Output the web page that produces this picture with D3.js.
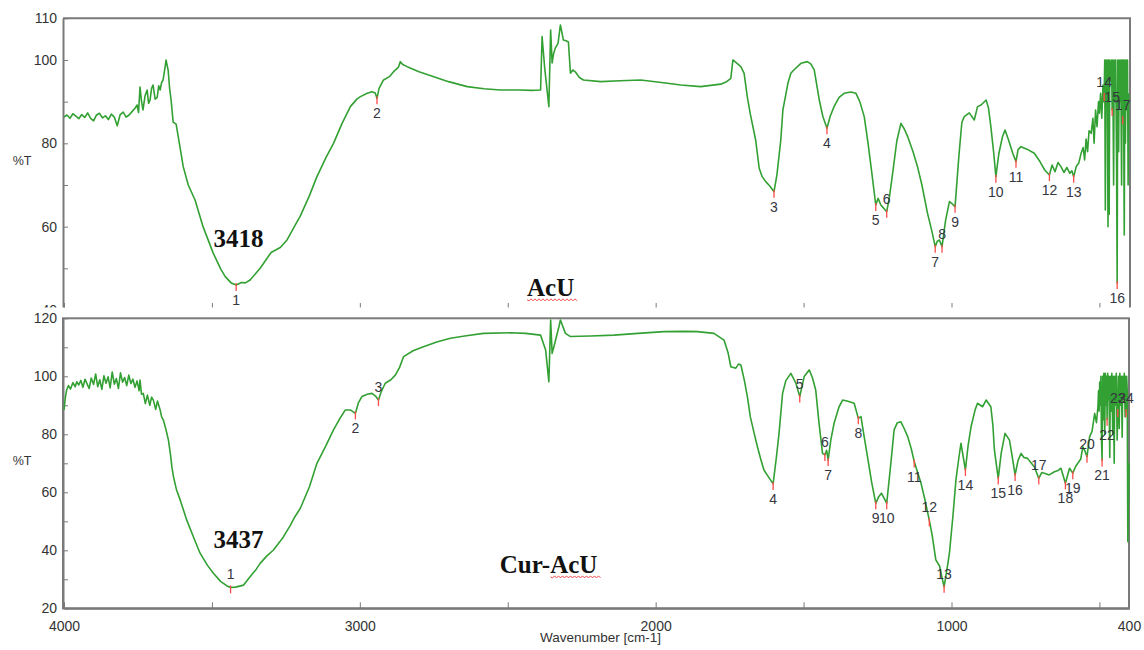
<!DOCTYPE html>
<html lang="en">
<head>
<meta charset="UTF-8">
<title>FTIR AcU / Cur-AcU</title>
<script src="https://cdnjs.cloudflare.com/ajax/libs/d3/7.8.5/d3.min.js"></script>
<style>
  body { margin: 0; background: #fff; }
  svg text { font-family: Arial, "Liberation Sans", sans-serif; }
</style>
</head>
<body>
<div id="chart"></div>
<script>
// spectra as [wavenumber cm-1, %T]
const acuSpectrum = [
  [4000,86.3],[3990,86.8],[3980,86.0],[3970,87.1],[3960,86.5],[3950,85.9],[3940,86.9],[3930,86.2],
  [3920,87.3],[3910,86.0],[3900,85.4],[3890,86.8],[3880,87.2],[3870,86.1],[3860,86.6],[3850,85.7],
  [3840,87.0],[3830,86.3],[3820,84.2],[3810,86.9],[3800,87.5],[3790,86.3],[3780,86.8],[3770,87.6],
  [3760,88.4],[3753,89.2],[3748,87.4],[3743,93.5],[3738,90.1],[3733,88.0],[3726,91.4],[3719,92.8],
  [3714,89.6],[3709,90.4],[3704,93.2],[3699,94.0],[3692,90.6],[3685,91.0],[3680,93.8],[3675,92.8],
  [3670,94.6],[3665,95.2],[3658,98.4],[3655,100.0],[3651,98.6],[3648,97.6],[3643,93.2],[3638,90.4],
  [3631,85.1],[3621,84.6],[3610,80.0],[3597,74.4],[3580,70.0],[3557,66.4],[3530,60.0],[3496,53.7],
  [3470,49.8],[3455,48.0],[3435,46.5],[3418,46.0],[3400,46.6],[3387,46.5],[3371,47.2],[3337,50.0],
  [3300,53.8],[3269,55.0],[3246,56.8],[3220,60.2],[3201,62.6],[3170,67.5],[3145,72.0],[3115,76.5],
  [3089,80.0],[3060,84.8],[3032,88.8],[3010,90.6],[2998,91.2],[2975,92.0],[2959,92.4],[2948,92.1],
  [2942,90.8],[2935,93.2],[2920,95.2],[2900,96.0],[2886,97.2],[2870,98.2],[2863,99.6],[2855,98.9],
  [2840,98.4],[2800,97.2],[2750,96.0],[2700,94.8],[2637,93.6],[2580,93.1],[2525,92.8],[2460,92.8],
  [2420,92.7],[2389,92.8],[2384,105.6],[2375,98.0],[2361,88.8],[2355,107.2],[2350,99.3],[2345,101.5],
  [2339,102.9],[2330,104.0],[2322,108.4],[2312,104.8],[2303,104.6],[2295,104.3],[2288,96.8],[2280,97.6],
  [2271,97.1],[2258,95.8],[2244,95.2],[2186,94.8],[2120,95.0],[2051,95.2],[1980,94.6],[1915,94.0],
  [1848,93.6],[1780,94.2],[1760,94.8],[1746,95.6],[1739,100.0],[1725,99.2],[1712,98.4],[1701,96.8],
  [1690,91.0],[1680,87.0],[1662,80.8],[1650,74.0],[1640,72.0],[1628,70.8],[1615,69.8],[1600,68.4],
  [1590,72.5],[1577,80.8],[1570,88.0],[1553,94.4],[1543,96.8],[1533,97.6],[1509,99.2],[1487,99.6],
  [1475,99.0],[1464,97.6],[1447,90.4],[1435,86.5],[1421,83.6],[1410,86.5],[1397,88.8],[1380,91.0],
  [1363,92.0],[1340,92.3],[1323,92.0],[1310,90.0],[1295,86.4],[1282,80.0],[1272,74.4],[1256,65.2],
  [1248,66.8],[1239,65.2],[1230,64.5],[1219,63.6],[1210,67.0],[1199,72.8],[1185,80.5],[1171,84.8],
  [1160,83.5],[1148,81.6],[1130,78.0],[1115,74.4],[1100,70.0],[1081,63.2],[1065,58.5],[1055,55.2],
  [1048,56.5],[1041,56.8],[1032,55.2],[1020,61.5],[1007,66.0],[998,65.5],[988,64.8],[975,77.0],
  [965,85.0],[957,86.4],[940,87.3],[923,85.6],[912,88.8],[900,89.2],[883,90.4],[875,88.5],
  [867,84.0],[857,77.5],[850,72.0],[840,77.5],[828,81.5],[819,83.2],[808,81.0],[793,77.6],
  [782,75.6],[775,78.5],[765,79.2],[745,78.6],[720,77.6],[700,75.5],[685,73.6],[669,72.4],
  [660,74.8],[650,73.2],[640,75.4],[630,74.4],[620,73.0],[610,74.2],[600,72.8],[593,73.4],
  [587,72.0],[578,74.5],[570,75.2],[562,77.6],[555,79.0],[550,76.0],[545,81.0],[540,78.0],
  [535,83.0],[528,82.4],[522,86.0],[518,80.0],[513,88.0],[508,84.0],[503,90.0],[500,87.2],
  [496,92.0],[492,86.0],[488,94.0],[486,90.0],[484,91.6],[482,100],[480,64],[478,100],
  [476,93],[474,100],[471,60],[469,100],[467,63],[465,100],[462,95],[459,100],
  [457,88],[455,100],[452,70],[450,100],[447,90],[445,100],[442,75],[440,46.5],
  [438,100],[435,78],[433,100],[430,90],[428,100],[425,70],[423,100],[421,86],
  [419,100],[416,58],[414,100],[412,80],[410,100],[408,88],[405,100],[403,70],[401,92]
];

const curAcuSpectrum = [
  [4000,88.4],[3995,93.0],[3991,95.3],[3985,96.8],[3978,95.6],[3970,97.8],[3962,96.4],[3957,98.1],
  [3950,97.0],[3943,98.6],[3936,96.2],[3929,99.0],[3922,97.4],[3915,95.8],[3908,99.4],[3900,97.2],
  [3893,100.8],[3886,96.4],[3879,98.8],[3872,95.5],[3865,100.2],[3858,97.6],[3851,99.8],[3844,96.0],
  [3837,101.5],[3830,97.3],[3823,99.2],[3816,95.8],[3809,101.2],[3802,98.0],[3795,99.6],[3788,96.8],
  [3781,100.4],[3774,97.5],[3767,99.0],[3760,96.2],[3753,98.4],[3746,95.0],[3743,98.7],[3738,93.8],
  [3732,94.1],[3725,90.6],[3718,93.5],[3710,90.0],[3704,92.8],[3698,91.8],[3690,88.6],[3684,91.5],
  [3675,88.4],[3670,86.0],[3664,84.9],[3655,81.5],[3647,78.0],[3640,73.0],[3635,68.5],[3630,65.4],
  [3620,61.0],[3607,57.3],[3585,50.4],[3560,44.0],[3540,39.0],[3515,34.8],[3495,32.1],[3470,29.2],
  [3450,27.8],[3437,27.2],[3420,27.3],[3393,28.0],[3371,30.9],[3350,33.5],[3337,35.5],[3315,38.0],
  [3292,40.1],[3270,43.0],[3258,44.7],[3235,48.6],[3220,51.5],[3201,54.5],[3170,62.0],[3145,70.0],
  [3115,76.0],[3089,81.5],[3070,85.0],[3049,88.4],[3032,88.4],[3015,87.2],[3005,90.8],[2993,93.0],
  [2975,93.8],[2959,94.1],[2947,93.2],[2937,91.8],[2928,94.6],[2914,97.6],[2895,98.8],[2880,100.4],
  [2866,103.0],[2852,106.8],[2820,108.8],[2785,110.2],[2740,111.8],[2694,113.1],[2640,114.0],[2582,114.8],
  [2491,115.0],[2440,114.8],[2389,114.2],[2372,109.1],[2361,98.1],[2355,119.4],[2350,107.9],[2344,110.2],
  [2327,117.1],[2322,119.4],[2305,114.8],[2288,113.7],[2220,113.9],[2141,114.2],[2060,114.8],[1972,115.4],
  [1900,115.5],[1859,115.4],[1803,114.8],[1769,112.5],[1755,108.0],[1746,103.3],[1729,102.8],[1720,104.2],
  [1712,103.9],[1700,98.5],[1690,93.0],[1680,86.0],[1667,80.3],[1656,75.7],[1645,71.5],[1634,67.7],
  [1620,65.5],[1603,62.9],[1592,72.0],[1583,80.3],[1571,94.1],[1560,98.5],[1543,101.0],[1526,97.6],
  [1513,93.0],[1498,99.9],[1481,102.2],[1470,99.5],[1459,95.3],[1448,84.0],[1436,73.4],[1428,72.9],
  [1422,74.5],[1417,71.1],[1408,78.0],[1397,83.8],[1380,89.5],[1368,91.8],[1350,91.4],[1329,90.7],
  [1315,85.5],[1306,86.1],[1295,79.0],[1284,72.3],[1270,63.5],[1256,56.2],[1246,58.5],[1237,59.7],
  [1228,58.0],[1219,56.2],[1205,70.0],[1194,81.5],[1183,84.0],[1171,84.3],[1160,82.0],[1148,79.2],
  [1136,75.0],[1126,70.6],[1115,67.0],[1103,63.1],[1090,57.5],[1075,50.4],[1065,45.0],[1053,36.7],
  [1040,34.5],[1032,30.5],[1025,27.4],[1016,33.0],[1007,39.0],[995,52.0],[985,64.3],[975,72.0],
  [968,76.9],[960,72.0],[953,67.7],[944,76.0],[934,82.6],[920,88.5],[912,90.7],[895,89.5],
  [883,91.8],[867,89.5],[860,83.0],[855,74.6],[842,64.8],[832,73.5],[819,80.3],[804,78.0],
  [795,72.5],[785,66.0],[775,71.0],[765,73.4],[755,72.0],[743,71.7],[730,70.0],[720,68.8],
  [705,64.8],[695,66.8],[686,66.6],[670,66.0],[652,67.1],[640,67.5],[630,68.3],[615,63.1],
  [601,68.3],[590,66.6],[580,69.0],[573,70.0],[563,71.5],[556,75.7],[548,74.0],[542,72.3],
  [533,79.2],[525,81.0],[516,87.2],[510,84.0],[505,89.5],[503,95],[501,88],[499,98],
  [497,90],[495,100],[493,78],[491,71],[489,100],[487,85],[485,101],[482,80],
  [480,101],[478,90],[476,100],[474,85],[472,101],[470,92],[468,100],[465,72],
  [463,100],[460,88],[458,101],[455,80],[453,100],[450,70],[448,100],[446,90],
  [443,101],[440,78],[438,88],[436,100],[433,82],[431,101],[428,90],[426,100],
  [423,79],[421,100],[418,92],[416,101],[413,86],[411,100],[410,88],[408,100],
  [406,95],[404,43],[402,58],[400,70]
];

// picked peaks (numbered 1..n in order)
const acuPeaks = [3418, 2942, 1600, 1421, 1256, 1219, 1055, 1032, 988, 850, 782, 669, 587, 484, 457, 440, 421];
const curAcuPeaks = [3437, 3015, 2937, 1603, 1513, 1428, 1417, 1315, 1256, 1219, 1126, 1075, 1025, 953, 842, 785, 705, 615, 590, 542, 491, 474, 438, 410];
const acuPeaksAbove = [6, 8, 14, 15, 17];
const curAcuPeaksAbove = [1, 3, 5, 6, 12, 13, 17, 20, 23, 24];

const xTicks = [4000, 3500, 3000, 2500, 2000, 1500, 1000, 500, 400];
const xTickLabels = [4000, 3000, 2000, 1000, 400];
const acuYTicks = [110, 100, 90, 80, 70, 60, 50, 40];
const acuYLabels = [110, 100, 80, 60, 40];
const curYTicks = [120, 110, 100, 90, 80, 70, 60, 50, 40, 30, 20];
const curYLabels = [120, 100, 80, 60, 40, 20];

const width = 1144;
const height = 650;
const lineColor = '#33a033';
const frameColor = '#7a7a7a';

const svg = d3.select('#chart').append('svg')
  .attr('width', width)
  .attr('height', height);

const x = d3.scaleLinear().domain([4000, 400]).range([64, 1129]);

const panels = [
  {
    id: 'acu', data: acuSpectrum, peaks: acuPeaks, above: acuPeaksAbove,
    y: d3.scaleLinear().domain([40, 110]).range([310, 18.3]),
    yTicks: acuYTicks, yLabels: acuYLabels, top: 18.3, bottom: 307.5, cut: true,
    value: '3418', valueAt: [3410, 55], name: 'AcU', nameAt: [2355, 43.4]
  },
  {
    id: 'cur', data: curAcuSpectrum, peaks: curAcuPeaks, above: curAcuPeaksAbove,
    y: d3.scaleLinear().domain([20, 120]).range([608.3, 318.3]),
    yTicks: curYTicks, yLabels: curYLabels, top: 318.3, bottom: 608.3, cut: false,
    value: '3437', valueAt: [3410, 40.8], name: 'Cur-AcU', nameAt: [2362, 32.2]
  }
];

panels.forEach(p => {
  const y = p.y;
  // clip for the cropped top panel
  svg.append('clipPath').attr('id', 'clip-' + p.id)
    .append('rect').attr('x', 0).attr('y', 0).attr('width', width).attr('height', p.bottom + (p.cut ? 0 : 40));
  svg.append('clipPath').attr('id', 'plot-' + p.id)
    .append('rect').attr('x', 63).attr('y', p.top).attr('width', 1067).attr('height', p.bottom - p.top);

  const g = svg.append('g').attr('clip-path', `url(#clip-${p.id})`);

  // frame
  if (p.cut) {
    g.append('path')
      .attr('d', `M63,${p.top}H1130V${p.bottom}`)
      .attr('fill', 'none').attr('stroke', frameColor).attr('stroke-width', 2);
  } else {
    g.append('rect')
      .attr('x', 63).attr('y', p.top).attr('width', 1066).attr('height', p.bottom - p.top)
      .attr('fill', 'none').attr('stroke', frameColor).attr('stroke-width', 2);
  }

  // y axis
  const yAxis = g.append('g')
    .attr('transform', 'translate(63,0)')
    .call(d3.axisLeft(y)
      .tickValues(p.yTicks)
      .tickSizeInner(-5).tickSizeOuter(0).tickPadding(6)
      .tickFormat(d => p.yLabels.includes(d) ? d : ''));
  yAxis.select('.domain').attr('stroke', frameColor).attr('stroke-width', 2);
  yAxis.selectAll('.tick line').attr('stroke', frameColor);
  yAxis.selectAll('text').attr('fill', '#333').style('font-size', '14px');

  // x axis (ticks only on the top panel)
  const xAxis = g.append('g')
    .attr('transform', `translate(0,${p.cut ? 309 : p.bottom})`)
    .call(d3.axisBottom(x)
      .tickValues(xTicks)
      .tickSizeInner(-6).tickSizeOuter(0).tickPadding(13)
      .tickFormat(d => (!p.cut && xTickLabels.includes(d)) ? d : ''));
  xAxis.select('.domain').attr('stroke', p.cut ? 'none' : frameColor).attr('stroke-width', 2);
  xAxis.selectAll('.tick line').attr('stroke', frameColor);
  xAxis.selectAll('text').attr('fill', '#333').style('font-size', '14px');

  svg.append('text')
    .attr('x', 22).attr('y', (p.top + p.bottom) / 2 + 2)
    .attr('text-anchor', 'middle')
    .attr('fill', '#333')
    .style('font-size', '12.5px')
    .text('%T');

  // spectrum
  const line = d3.line().x(d => x(d[0])).y(d => y(d[1]));
  svg.append('path')
    .datum(p.data)
    .attr('clip-path', `url(#plot-${p.id})`)
    .attr('d', line)
    .attr('fill', 'none')
    .attr('stroke', lineColor)
    .attr('stroke-width', 1.6)
    .attr('stroke-linejoin', 'round');

  // peak picks
  p.peaks.forEach((wn, i) => {
    const pt = p.data.reduce((a, b) => Math.abs(b[0] - wn) < Math.abs(a[0] - wn) ? b : a);
    const px = x(pt[0]);
    const py = y(pt[1]);
    const up = p.above.includes(i + 1);
    svg.append('line')
      .attr('x1', px).attr('x2', px)
      .attr('y1', py - 2).attr('y2', py + 6)
      .attr('stroke', '#ff4a4a').attr('stroke-width', 1.3);
    svg.append('text')
      .attr('x', px).attr('y', up ? py - 8 : py + 20)
      .attr('text-anchor', 'middle')
      .attr('fill', '#35363f')
      .style('font-size', '14px')
      .text(i + 1);
  });

  // big annotations
  svg.append('text')
    .attr('x', x(p.valueAt[0])).attr('y', y(p.valueAt[1]))
    .attr('text-anchor', 'middle')
    .style('font-family', '"Liberation Serif", "Times New Roman", serif')
    .style('font-weight', 'bold')
    .style('font-size', '25px')
    .attr('fill', '#111')
    .text(p.value);

  const nameText = svg.append('text')
    .attr('x', x(p.nameAt[0])).attr('y', y(p.nameAt[1]))
    .attr('text-anchor', 'middle')
    .style('font-family', '"Liberation Serif", "Times New Roman", serif')
    .style('font-weight', 'bold')
    .style('font-size', '25px')
    .attr('fill', '#111')
    .text(p.name);

  // red spell-check squiggle under "AcU"
  const bb = nameText.node().getBBox();
  const x0 = p.name === 'AcU' ? bb.x : bb.x + bb.width * 0.52;
  const x1 = bb.x + bb.width + 2;
  const sy = y(p.nameAt[1]) + 4;
  let d = `M${x0},${sy}`;
  for (let xx = x0, k = 0; xx < x1; xx += 2, k++) d += `L${xx + 2},${sy + (k % 2 ? -1 : 1)}`;
  svg.append('path').attr('d', d)
    .attr('fill', 'none').attr('stroke', '#e33').attr('stroke-width', 0.9);
});

svg.append('text')
  .attr('x', (64 + 1129) / 2 + 4).attr('y', 642)
  .attr('text-anchor', 'middle')
  .attr('fill', '#333')
  .style('font-size', '13.5px')
  .text('Wavenumber [cm-1]');
</script>
</body>
</html>
